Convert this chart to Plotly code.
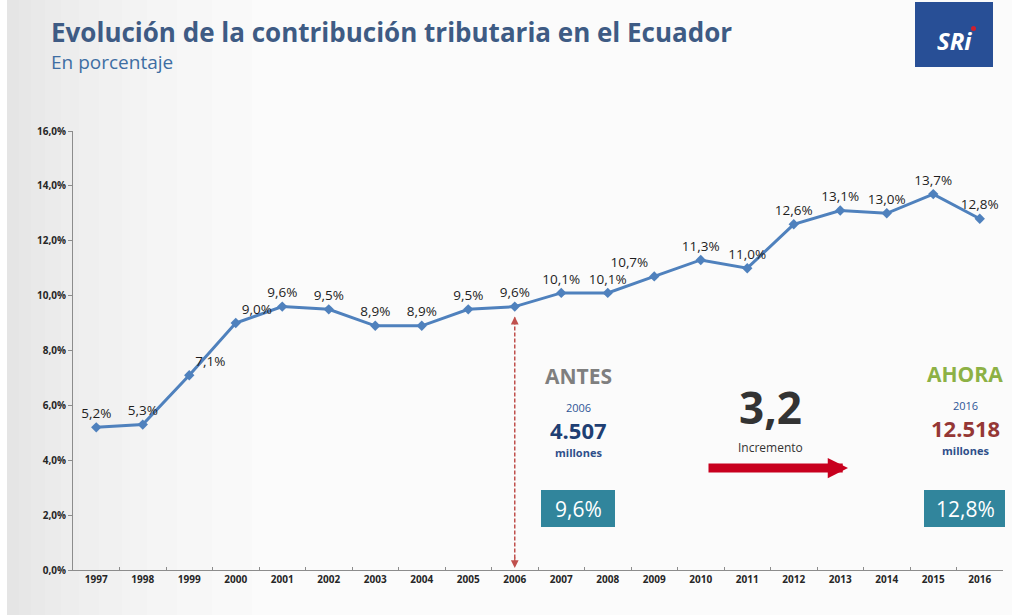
import plotly.graph_objects as go

years = [str(y) for y in range(1997, 2017)]
values = [5.2, 5.3, 7.1, 9.0, 9.6, 9.5, 8.9, 8.9, 9.5, 9.6,
          10.1, 10.1, 10.7, 11.3, 11.0, 12.6, 13.1, 13.0, 13.7, 12.8]
label_pos = ["top center"] * len(years)
for i, y in enumerate(years):
    if y in ("2009",):
        label_pos[i] = "top left"
    if y in ("2000", "1999"):
        label_pos[i] = "top right"

y_ticks = [0, 2, 4, 6, 8, 10, 12, 14, 16]
y_ticktext = [f"{v:.1f}%".replace(".", ",") for v in y_ticks]
before_year, after_year = "2006", "2016"
before_amount, after_amount = "4.507", "12.518"
increase = "3,2"

FONT = "Open Sans"
BLUE_LINE = "#4f81bd"
TEAL = "#31859c"

fig = go.Figure()
fig.add_trace(go.Scatter(
    x=years, y=values, mode="lines+markers+text",
    line=dict(color=BLUE_LINE, width=3),
    marker=dict(symbol="diamond", size=8, color=BLUE_LINE),
    text=[f"{v:.1f}%".replace(".", ",") for v in values],
    textposition=label_pos,
    textfont=dict(family=FONT, size=13.5, color="#1e1e1e"),
    cliponaxis=False, showlegend=False, hoverinfo="skip",
))

bi = years.index(before_year)
ai = years.index(after_year)
# dashed double arrow at before year (category index on the x axis)
fig.add_shape(type="line", xref="x", yref="y", x0=bi, x1=bi, y0=0.2, y1=values[bi] - 0.4,
              line=dict(color="#c0504d", width=1.5, dash="4px,2px"))
fig.add_annotation(xref="x", yref="y", x=bi, y=values[bi], ax=0, ay=16, standoff=10, text="",
                   showarrow=True, arrowhead=2, arrowsize=1.2, arrowwidth=1.3, arrowcolor="#c0504d")
fig.add_annotation(xref="x", yref="y", x=bi, y=0, ax=0, ay=-14, standoff=2, text="",
                   showarrow=True, arrowhead=2, arrowsize=1.2, arrowwidth=1.3, arrowcolor="#c0504d")

L, R, T, B = 73, 9, 131, 45
W, H = 1012, 615
pw, ph = W - L - R, H - T - B


def px(x):
    return (x - L) / pw


def py(y):
    return (H - B - y) / ph


def ann(x, y, text, size, color, bold=True, xanchor="center", family=FONT, **kw):
    fig.add_annotation(xref="paper", yref="paper", x=px(x), y=py(y), text=text,
                       showarrow=False, xanchor=xanchor, yanchor="middle", borderpad=0,
                       font=dict(family=family, size=size, color=color,
                                 weight=700 if bold else 400), **kw)


# background shading (gray toward left edge)
for w in [12, 24, 38, 54, 72, 92, 115, 140, 170, 205, 245]:
    fig.add_shape(type="rect", xref="paper", yref="paper", x0=px(7), x1=px(7 + w),
                  y0=py(H), y1=py(0), fillcolor="#a0a0a0", opacity=0.018,
                  line=dict(width=0), layer="below")
fig.add_shape(type="rect", xref="paper", yref="paper", x0=px(0), x1=px(7),
              y0=py(H), y1=py(0), fillcolor="white", line=dict(width=0), layer="below")

# title
ann(50, 32, "Evolución de la contribución tributaria en el Ecuador", 26, "#3e5b84",
    bold=True, xanchor="left")
ann(50, 62, "En porcentaje", 19, "#3e6ea3", bold=False, xanchor="left")

# SRI logo
fig.add_shape(type="rect", xref="paper", yref="paper", x0=px(915), x1=px(993),
              y0=py(67), y1=py(2), fillcolor="#284f96", line=dict(width=0))
ann(954, 40, "<i>SRi</i>", 24, "white", bold=True)
fig.add_shape(type="circle", xref="paper", yref="paper", x0=px(971), x1=px(976),
              y0=py(31), y1=py(26), fillcolor="#d0202e", line=dict(width=0))

# ANTES block
ann(578, 376, "ANTES", 21, "#7f7f7f")
ann(578, 408, before_year, 11, "#2e5596", bold=False)
ann(578, 430, before_amount, 22, "#1f3f73")
ann(578, 452, "millones", 11, "#2e4f8a")
fig.add_shape(type="rect", xref="paper", yref="paper", x0=px(541), x1=px(615),
              y0=py(527), y1=py(490), fillcolor=TEAL, line=dict(width=0))
ann(578, 509, f"{values[bi]:.1f}%".replace(".", ","), 21, "white", bold=False)

# increment
ann(770, 407, increase, 44, "#333333")
ann(770, 447, "Incremento", 12, "#333333", bold=False)
fig.add_annotation(xref="paper", yref="paper", x=px(848), y=py(468), ax=-141, ay=0,
                   text="", showarrow=True, arrowhead=2, arrowsize=0.45, arrowwidth=9,
                   arrowcolor="#c8001e", standoff=0)

# AHORA block
ann(965, 374, "AHORA", 21, "#8db145")
ann(965, 406, after_year, 11, "#2e5596", bold=False)
ann(965, 428, after_amount, 22, "#953735")
ann(965, 450, "millones", 11, "#2e4f8a")
fig.add_shape(type="rect", xref="paper", yref="paper", x0=px(924), x1=px(1005),
              y0=py(527), y1=py(490), fillcolor=TEAL, line=dict(width=0))
ann(965, 509, f"{values[ai]:.1f}%".replace(".", ","), 21, "white", bold=False)

fig.update_layout(
    width=W, height=H,
    margin=dict(l=L, r=R, t=T, b=B),
    paper_bgcolor="#fbfbfb", plot_bgcolor="rgba(0,0,0,0)",
    separators=",.",
    font=dict(family=FONT),
    xaxis=dict(type="category", range=[-0.5, len(years) - 0.5], showgrid=False,
               showline=True, linecolor="#8c8c8c", linewidth=1,
               ticks="inside", ticklen=3, tickcolor="#8c8c8c", tickson="boundaries",
               tickfont=dict(family=FONT, size=10, color="#262626", weight=700),
               zeroline=False, fixedrange=True),
    yaxis=dict(range=[0, 16], tickvals=y_ticks, ticktext=y_ticktext,
               showgrid=False, showline=True, linecolor="#8c8c8c", linewidth=1,
               ticks="outside", ticklen=4, tickcolor="#8c8c8c",
               tickfont=dict(family=FONT, size=10, color="#262626", weight=700),
               zeroline=False, fixedrange=True),
)

fig.write_html("out.html", config={"displayModeBar": False},
               post_script="document.body.style.margin='0';document.body.style.overflow='hidden';")
